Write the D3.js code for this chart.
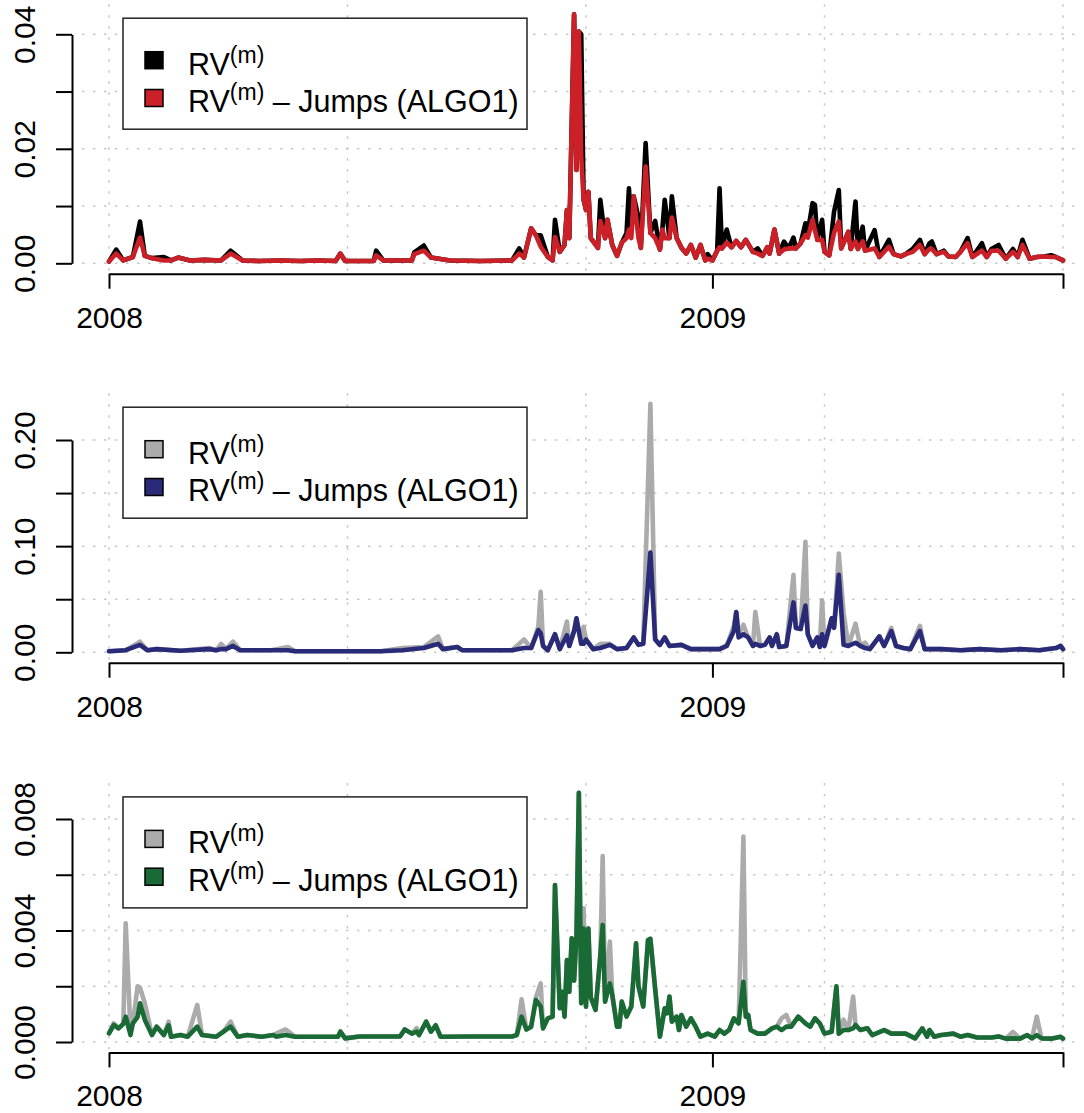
<!DOCTYPE html>
<meta charset="utf-8">
<style>
body { margin: 0; background: #fff; }
svg { display: block; font-family: "Liberation Sans", Arial, Helvetica, sans-serif; }
.grid line { stroke: #c8c8c8; stroke-width: 1.5; stroke-dasharray: 2.5 8.5; }
.axis path, .axis line { stroke: #000; stroke-width: 2; }
.axis text { fill: #000; font-size: 30px; font-family: "Liberation Sans", Arial, sans-serif; }
.series { fill: none; stroke-width: 4.6; stroke-linejoin: round; stroke-linecap: round; }
</style>
<body>
<script src="https://cdn.jsdelivr.net/npm/d3@7"></script>
<script>

// trading day index, 0 = first day of 2008
var yearTicks = [0, 253, 400],
    yearLabels = ["2008", "2009", ""],
    gridDays = [0, 100, 200, 300, 400];

// panel 1
var days1 = [0,3,6,10,13,15,18,23,26,29,34,40,47,51,56,63,72,80,88,95,
  97,99,111,112,115,127,128,132,135,143,156,169,172,174,177,179,181,184,186,187,
  189,191,192,193,195,196,197,198,199,200,201,202,205,206,208,209,211,213,215,217,
  218,219,220,222,223,225,227,229,231,232,233,235,236,238,240,242,244,246,248,250,
  251,253,255,256,257,259,261,263,265,267,270,272,274,276,277,279,281,283,285,287,
  288,290,292,293,295,296,297,299,300,302,304,306,307,310,311,313,314,316,317,321,
  323,327,329,332,334,337,340,342,344,345,347,350,352,355,357,360,362,366,368,370,
  373,376,379,381,383,386,389,392,395,397,400];
var rv1 = [0.0003,0.0024,0.0005,0.0011,0.0073,0.0013,0.0009,0.0011,0.0005,0.0010,
  0.0005,0.0006,0.0005,0.0022,0.0005,0.0004,0.0005,0.0004,0.0005,0.0004,
  0.0017,0.0004,0.0004,0.0022,0.0005,0.0005,0.0019,0.0031,0.0010,0.0005,
  0.0004,0.0005,0.0026,0.0010,0.0061,0.0049,0.0049,0.0011,0.0005,0.0076,
  0.0020,0.0032,0.0093,0.0044,0.0435,0.0163,0.0405,0.0400,0.0111,0.0093,
  0.0125,0.0044,0.0027,0.0111,0.0044,0.0076,0.0032,0.0013,0.0036,0.0053,
  0.0131,0.0060,0.0117,0.0080,0.0027,0.0210,0.0053,0.0074,0.0024,0.0059,
  0.0111,0.0044,0.0117,0.0044,0.0027,0.0017,0.0032,0.0010,0.0032,0.0005,
  0.0016,0.0005,0.0022,0.0131,0.0026,0.0059,0.0028,0.0039,0.0028,0.0041,
  0.0020,0.0026,0.0013,0.0028,0.0017,0.0059,0.0017,0.0038,0.0026,0.0045,
  0.0026,0.0035,0.0070,0.0055,0.0105,0.0102,0.0041,0.0076,0.0020,0.0014,
  0.0090,0.0128,0.0026,0.0055,0.0025,0.0108,0.0025,0.0064,0.0022,0.0058,
  0.0011,0.0041,0.0016,0.0012,0.0016,0.0025,0.0041,0.0016,0.0035,0.0038,
  0.0016,0.0022,0.0012,0.0011,0.0020,0.0044,0.0011,0.0035,0.0011,0.0025,
  0.0032,0.0008,0.0025,0.0011,0.0041,0.0008,0.0011,0.0012,0.0014,0.0011,
  0.0005];
var rvJ1 = [0.0003,0.0017,0.0005,0.0011,0.0045,0.0013,0.0009,0.0005,0.0005,0.0010,
  0.0005,0.0006,0.0005,0.0017,0.0005,0.0004,0.0005,0.0004,0.0005,0.0004,
  0.0017,0.0004,0.0004,0.0014,0.0005,0.0005,0.0016,0.0022,0.0010,0.0005,
  0.0004,0.0005,0.0017,0.0010,0.0061,0.0049,0.0029,0.0011,0.0005,0.0046,
  0.0020,0.0032,0.0093,0.0044,0.0435,0.0163,0.0405,0.0186,0.0111,0.0093,
  0.0125,0.0044,0.0027,0.0074,0.0044,0.0076,0.0032,0.0013,0.0036,0.0044,
  0.0059,0.0044,0.0117,0.0044,0.0027,0.0169,0.0053,0.0044,0.0024,0.0059,
  0.0044,0.0044,0.0080,0.0044,0.0027,0.0017,0.0032,0.0010,0.0032,0.0005,
  0.0008,0.0005,0.0022,0.0028,0.0026,0.0036,0.0028,0.0039,0.0028,0.0041,
  0.0020,0.0017,0.0013,0.0028,0.0017,0.0059,0.0017,0.0024,0.0026,0.0026,
  0.0026,0.0035,0.0049,0.0045,0.0076,0.0057,0.0041,0.0041,0.0020,0.0014,
  0.0053,0.0073,0.0026,0.0055,0.0025,0.0038,0.0025,0.0038,0.0022,0.0026,
  0.0011,0.0029,0.0016,0.0012,0.0016,0.0020,0.0032,0.0016,0.0025,0.0025,
  0.0016,0.0020,0.0012,0.0011,0.0020,0.0035,0.0011,0.0022,0.0011,0.0022,
  0.0022,0.0008,0.0020,0.0011,0.0032,0.0008,0.0011,0.0012,0.0011,0.0011,
  0.0005];
var yTicks1 = [0, 0.01, 0.02, 0.03, 0.04],
    yLabels1 = ["0.00", "", "0.02", "", "0.04"];

// panel 2
var days2 = [0,7,13,16,20,30,42,45,47,49,52,55,68,75,78,97,114,123,132,138,
  140,146,148,169,174,177,180,181,182,184,187,189,192,193,195,196,198,199,200,203,
  206,210,213,217,220,222,224,227,229,231,233,235,240,244,256,259,262,263,264,266,
  268,270,271,273,275,277,278,280,281,284,287,288,290,292,293,295,297,298,299,300,
  303,304,306,308,310,313,315,317,319,323,325,328,330,333,336,340,342,349,357,365,
  374,382,390,397,399,400];
var rv2 = [0.001,0.002,0.010,0.002,0.003,0.0015,0.004,0.002,0.008,0.003,
  0.010,0.002,0.002,0.005,0.001,0.001,0.001,0.004,0.005,0.015,
  0.003,0.005,0.002,0.002,0.012,0.004,0.024,0.057,0.006,0.002,
  0.017,0.003,0.029,0.006,0.020,0.032,0.008,0.024,0.012,0.003,
  0.008,0.008,0.003,0.004,0.014,0.007,0.008,0.234,0.012,0.007,
  0.014,0.006,0.007,0.003,0.003,0.006,0.025,0.038,0.017,0.026,
  0.014,0.006,0.038,0.006,0.007,0.014,0.006,0.017,0.005,0.006,
  0.073,0.023,0.022,0.104,0.017,0.006,0.014,0.005,0.049,0.006,
  0.032,0.023,0.093,0.037,0.006,0.027,0.006,0.009,0.003,0.015,
  0.006,0.023,0.006,0.004,0.003,0.025,0.003,0.003,0.002,0.003,
  0.002,0.003,0.002,0.004,0.006,0.003];
var rvJ2 = [0.001,0.002,0.007,0.002,0.003,0.0015,0.003,0.002,0.003,0.003,
  0.006,0.002,0.002,0.002,0.001,0.001,0.001,0.002,0.004,0.008,
  0.003,0.005,0.002,0.002,0.004,0.004,0.021,0.018,0.006,0.002,
  0.017,0.003,0.016,0.006,0.020,0.032,0.008,0.008,0.012,0.003,
  0.004,0.007,0.003,0.004,0.014,0.007,0.008,0.094,0.012,0.007,
  0.014,0.006,0.007,0.003,0.003,0.006,0.020,0.038,0.014,0.017,
  0.014,0.006,0.008,0.006,0.007,0.014,0.006,0.017,0.005,0.006,
  0.047,0.023,0.022,0.044,0.017,0.006,0.014,0.005,0.017,0.006,
  0.032,0.023,0.073,0.007,0.006,0.009,0.006,0.004,0.003,0.015,
  0.006,0.020,0.006,0.004,0.003,0.020,0.003,0.003,0.002,0.003,
  0.002,0.003,0.002,0.004,0.006,0.003];
var yTicks2 = [0, 0.05, 0.10, 0.15, 0.20],
    yLabels2 = ["0.00", "", "0.10", "", "0.20"];

// panel 3
var days3 = [0,2,4,6,7,9,10,12,13,15,18,20,23,25,26,30,33,37,39,45,
  48,51,54,58,64,69,70,74,78,88,96,97,99,105,114,122,124,127,129,130,
  133,135,137,139,151,169,171,173,175,177,179,181,182,184,186,187,189,190,191,192,
  193,194,195,196,197,198,199,200,201,202,204,206,207,208,210,211,213,214,215,217,
  219,221,222,224,226,227,229,231,233,234,235,236,238,239,240,242,244,246,248,251,
  254,256,258,260,262,264,266,267,268,269,272,275,278,280,282,284,286,289,292,294,
  296,298,300,303,305,306,308,310,312,313,315,318,320,325,328,334,338,341,343,344,
  346,349,354,357,360,364,370,373,376,379,382,385,387,389,391,395,399,400];
var rv3 = [0.00031,0.00067,0.00049,0.00065,0.00426,0.00040,0.00067,0.00200,0.00195,0.00140,
  0.00025,0.00055,0.00025,0.00073,0.00019,0.00025,0.00019,0.00133,0.00025,0.00019,
  0.00037,0.00073,0.00019,0.00025,0.00019,0.00025,0.00030,0.00045,0.00019,0.00019,
  0.00019,0.00037,0.00013,0.00020,0.00020,0.00020,0.00045,0.00030,0.00050,0.00025,
  0.00073,0.00037,0.00060,0.00019,0.00020,0.00020,0.00025,0.00153,0.00045,0.00055,
  0.00160,0.00210,0.00049,0.00085,0.00091,0.00563,0.00121,0.00180,0.00091,0.00294,
  0.00180,0.00372,0.00220,0.00380,0.00894,0.00139,0.00480,0.00127,0.00407,0.00160,
  0.00115,0.00310,0.00667,0.00145,0.00360,0.00170,0.00055,0.00055,0.00145,0.00091,
  0.00127,0.00354,0.00200,0.00127,0.00366,0.00370,0.00190,0.00019,0.00121,0.00103,
  0.00163,0.00073,0.00091,0.00043,0.00097,0.00055,0.00085,0.00055,0.00019,0.00030,
  0.00019,0.00043,0.00030,0.00043,0.00085,0.00067,0.00737,0.00091,0.00097,0.00043,
  0.00030,0.00030,0.00049,0.00055,0.00085,0.00097,0.00055,0.00091,0.00067,0.00055,
  0.00085,0.00067,0.00030,0.00037,0.00200,0.00030,0.00080,0.00043,0.00163,0.00061,
  0.00043,0.00049,0.00025,0.00043,0.00030,0.00030,0.00013,0.00049,0.00019,0.00043,
  0.00019,0.00025,0.00030,0.00019,0.00025,0.00016,0.00016,0.00020,0.00012,0.00036,
  0.00012,0.00025,0.00013,0.00091,0.00013,0.00012,0.00019,0.00012];
var rvJ3 = [0.00031,0.00061,0.00049,0.00065,0.00091,0.00025,0.00067,0.00090,0.00139,0.00080,
  0.00025,0.00055,0.00025,0.00060,0.00019,0.00025,0.00019,0.00055,0.00025,0.00019,
  0.00037,0.00055,0.00019,0.00025,0.00019,0.00025,0.00019,0.00025,0.00019,0.00019,
  0.00019,0.00037,0.00013,0.00020,0.00020,0.00020,0.00045,0.00030,0.00037,0.00025,
  0.00073,0.00037,0.00060,0.00019,0.00020,0.00020,0.00025,0.00091,0.00045,0.00055,
  0.00151,0.00127,0.00049,0.00085,0.00091,0.00563,0.00121,0.00180,0.00091,0.00294,
  0.00180,0.00372,0.00220,0.00380,0.00894,0.00139,0.00407,0.00127,0.00407,0.00160,
  0.00115,0.00310,0.00420,0.00145,0.00210,0.00170,0.00055,0.00055,0.00145,0.00091,
  0.00127,0.00354,0.00200,0.00127,0.00366,0.00370,0.00190,0.00019,0.00121,0.00103,
  0.00163,0.00073,0.00091,0.00043,0.00097,0.00055,0.00085,0.00055,0.00019,0.00030,
  0.00019,0.00043,0.00030,0.00043,0.00085,0.00067,0.00216,0.00091,0.00097,0.00043,
  0.00030,0.00030,0.00049,0.00055,0.00043,0.00055,0.00055,0.00091,0.00067,0.00055,
  0.00085,0.00067,0.00030,0.00037,0.00200,0.00030,0.00043,0.00043,0.00049,0.00061,
  0.00043,0.00049,0.00025,0.00043,0.00030,0.00030,0.00013,0.00049,0.00019,0.00043,
  0.00019,0.00025,0.00030,0.00019,0.00025,0.00016,0.00016,0.00020,0.00012,0.00013,
  0.00012,0.00025,0.00013,0.00025,0.00013,0.00012,0.00019,0.00012];
var yTicks3 = [0, 0.002, 0.004, 0.006, 0.008],
    yLabels3 = ["0.000", "", "0.004", "", "0.008"];

var panels = [
  {days: days1, rv: rv1, jump: rvJ1, ticks: yTicks1, labels: yLabels1,
   rvColor: "#000000", jumpColor: "#CB2027", zeroY: 263.3, topY: 34.3},
  {days: days2, rv: rv2, jump: rvJ2, ticks: yTicks2, labels: yLabels2,
   rvColor: "#ABABAB", jumpColor: "#2A2B78", zeroY: 652.3, topY: 440},
  {days: days3, rv: rv3, jump: rvJ3, ticks: yTicks3, labels: yLabels3,
   rvColor: "#ABABAB", jumpColor: "#1A6A35", zeroY: 1042, topY: 819}
];

var width = 1084, height = 1113;

var svg = d3.select("body").append("svg")
    .attr("width", width)
    .attr("height", height);

var x = d3.scaleLinear()
    .domain([0, 400])
    .range([109, 1063]);

panels.forEach(function(p) {
  var y = d3.scaleLinear()
      .domain([0, p.ticks[p.ticks.length - 1]])
      .range([p.zeroY, p.topY]);

  var axisY = p.zeroY + 10.4,
      plotTop = p.zeroY - 259,
      g = svg.append("g");

  // dotted grid
  var grid = g.append("g").attr("class", "grid");
  grid.selectAll(".h").data(p.ticks).enter().append("line")
      .attr("x1", 82).attr("x2", 1080)
      .attr("y1", function(d) { return y(d); })
      .attr("y2", function(d) { return y(d); });
  grid.selectAll(".v").data(gridDays).enter().append("line")
      .attr("x1", function(d) { return x(d); })
      .attr("x2", function(d) { return x(d); })
      .attr("y1", plotTop).attr("y2", axisY);

  var line = function(vals) {
    return d3.line()
      .x(function(d, i) { return x(p.days[i]); })
      .y(function(d) { return y(d); })(vals);
  };

  g.append("path").attr("class", "series")
      .attr("stroke", p.rvColor).attr("d", line(p.rv));
  g.append("path").attr("class", "series")
      .attr("stroke", p.jumpColor).attr("d", line(p.jump));

  // y axis
  var ya = g.append("g").attr("class", "axis")
      .attr("transform", "translate(72,0)")
      .call(d3.axisLeft(y).tickValues(p.ticks).tickSize(16).tickSizeOuter(0)
        .tickFormat(function(d, i) { return p.labels[i]; }));
  ya.attr("font-size", null).attr("font-family", null);
  ya.selectAll("text")
      .attr("x", null).attr("dy", null)
      .attr("text-anchor", "middle")
      .attr("transform", "translate(-37,0) rotate(-90)");

  // x axis
  var xa = g.append("g").attr("class", "axis")
      .attr("transform", "translate(0," + axisY + ")")
      .call(d3.axisBottom(x).tickValues(yearTicks).tickSize(15).tickSizeOuter(0)
        .tickFormat(function(d, i) { return yearLabels[i]; }));
  xa.attr("font-size", null).attr("font-family", null);
  xa.selectAll("text").attr("y", 54).attr("dy", null);

  // legend
  var lg = g.append("g").attr("transform", "translate(123," + (axisY - 255.5) + ")");
  lg.append("rect")
      .attr("width", 404).attr("height", 111)
      .attr("fill", "#fff").attr("stroke", "#222").attr("stroke-width", 1.5);
  [p.rvColor, p.jumpColor].forEach(function(c, i) {
    var rowY = 56.5 + i * 37.8;
    lg.append("rect")
        .attr("x", 22).attr("y", rowY - 23)
        .attr("width", 18).attr("height", 17)
        .attr("fill", c).attr("stroke", "#000").attr("stroke-width", 1.5);
    var t = lg.append("text")
        .attr("x", 65).attr("y", rowY)
        .attr("font-size", 30.5).attr("fill", "#000");
    t.append("tspan").text("RV");
    t.append("tspan").attr("font-size", 23).attr("dy", -12).text("(m)");
    if (i == 1) {
      t.append("tspan").attr("dy", 12).text(" \u2013 Jumps (ALGO1)");
    }
  });
});

</script>
